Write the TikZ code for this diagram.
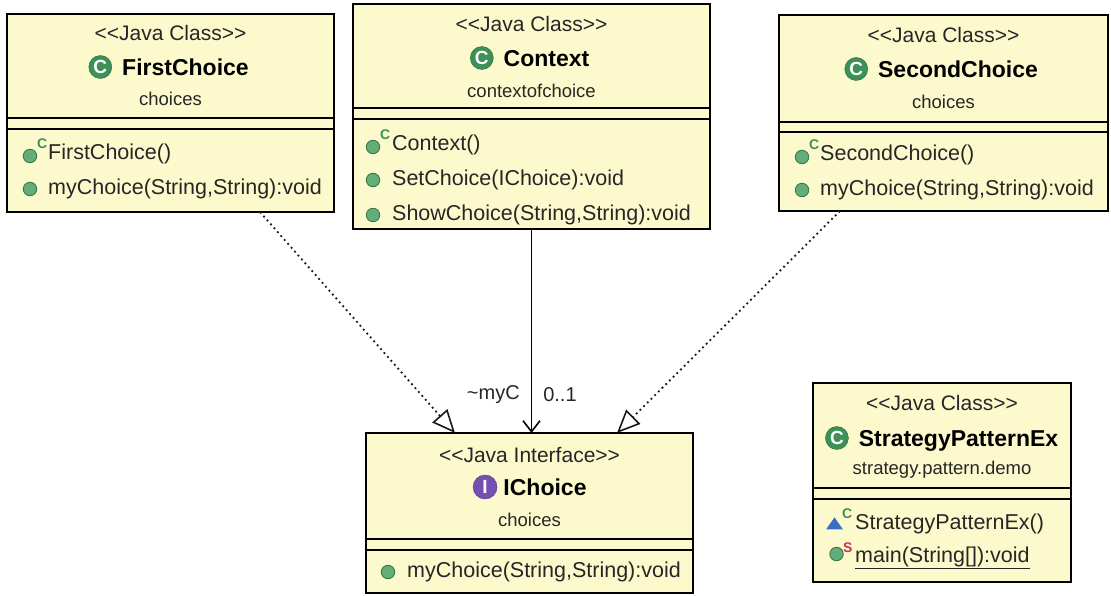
\documentclass[tikz,border=0pt]{standalone}
\usepackage{fontspec}
\setmainfont{Liberation Sans}
\usetikzlibrary{positioning, arrows.meta, shapes.geometric}

\definecolor{boxfill}{HTML}{FCFACC}
\definecolor{icongreen}{HTML}{3E9156}
\definecolor{dotgreen}{HTML}{62AD78}
\definecolor{iconpurple}{HTML}{7650B0}
\definecolor{pkgblue}{HTML}{3B6DC0}
\definecolor{staticred}{HTML}{D22F55}
\definecolor{textgray}{HTML}{262626}

\newcommand{\stereotype}[1]{\textless\kern0pt\textless #1\textgreater\kern0pt\textgreater}

\begin{document}
\begin{tikzpicture}[x=1pt, y=-1pt,
	classbox/.style={draw=black, line width=1.7pt, fill=boxfill, rectangle, inner sep=0pt, outer sep=0pt},
	sepline/.style={draw=black, line width=1.7pt},
	stereo/.style={font=\fontsize{21}{25}\selectfont, text=textgray, inner sep=0pt},
	classname/.style={font=\fontsize{23}{27}\selectfont\bfseries, text height=16.5pt, text depth=0pt, inner sep=0pt},
	pkg/.style={font=\fontsize{18.5}{22}\selectfont, text=textgray, inner sep=0pt},
	member/.style={font=\fontsize{21.5}{25}\selectfont, text=textgray, anchor=west, inner sep=0pt},
	classicon/.style={circle, fill=icongreen, draw=icongreen!70!black, minimum size=23pt, inner sep=0pt,
		text=white, font=\fontsize{19}{19}\selectfont\bfseries},
	ifaceicon/.style={classicon, fill=iconpurple, draw=iconpurple!70!black, minimum size=24pt},
	pubdot/.style={circle, fill=dotgreen, draw=icongreen!80!black, line width=0.8pt, minimum size=13.5pt, inner sep=0pt},
	pkgtri/.style={isosceles triangle, isosceles triangle apex angle=70, shape border rotate=90,
		fill=pkgblue, minimum height=12pt, minimum width=14pt, inner sep=0pt},
	ctorsup/.style={font=\fontsize{14}{14}\selectfont\bfseries, text=icongreen, inner sep=0pt},
	staticsup/.style={ctorsup, text=staticred},
	realize/.style={draw=black!90, line width=1.8pt, dash pattern=on 1.8pt off 3.4pt,
		-{Triangle[open, length=23pt, width=20pt, line width=1.6pt]}},
	assoc/.style={draw=black, line width=1.6pt, -{Straight Barb[length=11pt, width=17pt, line width=1.6pt]}},
	assoclabel/.style={font=\fontsize{20}{24}\selectfont, text=textgray, inner sep=0pt}
]
\useasboundingbox (0,0) rectangle (1111,596);

	% Class boxes
	\node[classbox, minimum width=327, minimum height=198] (first) at (170.5,113) {};
	\node[classbox, minimum width=357, minimum height=225] (context) at (531.5,116.5) {};
	\node[classbox, minimum width=329, minimum height=196] (second) at (943.5,113) {};
	\node[classbox, minimum width=327, minimum height=160] (ichoice) at (529.5,513) {};
	\node[classbox, minimum width=258, minimum height=199] (strategy) at (942,482.5) {};

	% Compartment separators
	\draw[sepline] (7,118) -- (334,118);
	\draw[sepline] (7,129) -- (334,129);
	\draw[sepline] (353,108) -- (710,108);
	\draw[sepline] (353,119) -- (710,119);
	\draw[sepline] (779,122) -- (1108,122);
	\draw[sepline] (779,132) -- (1108,132);
	\draw[sepline] (366,539) -- (693,539);
	\draw[sepline] (366,550) -- (693,550);
	\draw[sepline] (813,488) -- (1071,488);
	\draw[sepline] (813,499) -- (1071,499);

	% FirstChoice
	\node[stereo] (first_stereo) at (170.5,33) {\stereotype{Java Class}};
	\node[classname] (first_name) at (185.5,67) {FirstChoice};
	\node[classicon, left=10pt of first_name] (first_icon) {C};
	\node[pkg] (first_pkg) at (170.5,99) {choices};
	\node[pubdot] (first_ctor_dot) at (30,156) {};
	\node[ctorsup, anchor=south west] (first_ctor_sup) at (37,149) {C};
	\node[member] (first_ctor) at (48,154) {FirstChoice()};
	\node[pubdot] (first_op_dot) at (30,189) {};
	\node[member] (first_op) at (48,189) {myChoice(String,String):void};

	% Context
	\node[stereo] (context_stereo) at (531.5,24) {\stereotype{Java Class}};
	\node[classname] (context_name) at (546.5,58) {Context};
	\node[classicon, left=10pt of context_name] (context_icon) {C};
	\node[pkg] (context_pkg) at (531.5,91) {contextofchoice};
	\node[pubdot] (context_ctor_dot) at (373,147) {};
	\node[ctorsup, anchor=south west] (context_ctor_sup) at (380,140) {C};
	\node[member] (context_ctor) at (392,145) {Context()};
	\node[pubdot] (context_set_dot) at (373,180) {};
	\node[member] (context_set) at (392,180) {SetChoice(IChoice):void};
	\node[pubdot] (context_show_dot) at (373,215) {};
	\node[member] (context_show) at (392,215) {ShowChoice(String,String):void};

	% SecondChoice
	\node[stereo] (second_stereo) at (943.5,35) {\stereotype{Java Class}};
	\node[classname] (second_name) at (958,69) {SecondChoice};
	\node[classicon, left=10pt of second_name] (second_icon) {C};
	\node[pkg] (second_pkg) at (943.5,102) {choices};
	\node[pubdot] (second_ctor_dot) at (802,157) {};
	\node[ctorsup, anchor=south west] (second_ctor_sup) at (809,150) {C};
	\node[member] (second_ctor) at (820,155) {SecondChoice()};
	\node[pubdot] (second_op_dot) at (802,190) {};
	\node[member] (second_op) at (820,190) {myChoice(String,String):void};

	% IChoice
	\node[stereo] (ichoice_stereo) at (529.5,455) {\stereotype{Java Interface}};
	\node[classname] (ichoice_name) at (545,487) {IChoice};
	\node[ifaceicon, left=6pt of ichoice_name] (ichoice_icon) {I};
	\node[pkg] (ichoice_pkg) at (529.5,520) {choices};
	\node[pubdot] (ichoice_op_dot) at (388,572) {};
	\node[member] (ichoice_op) at (407,572) {myChoice(String,String):void};

	% StrategyPatternEx
	\node[stereo] (strategy_stereo) at (942,403) {\stereotype{Java Class}};
	\node[classname] (strategy_name) at (958.5,438) {StrategyPatternEx};
	\node[classicon, left=10pt of strategy_name] (strategy_icon) {C};
	\node[pkg] (strategy_pkg) at (942,470) {strategy.pattern.demo};
	\node[pkgtri] (strategy_ctor_tri) at (834.5,525) {};
	\node[ctorsup, anchor=south west] (strategy_ctor_sup) at (842,519) {C};
	\node[member] (strategy_ctor) at (855,524) {StrategyPatternEx()};
	\node[pubdot] (strategy_main_dot) at (836.5,554) {};
	\node[staticsup, anchor=south west] (strategy_main_sup) at (843,553) {S};
	\node[member] (strategy_main) at (855,558) {\underline{main(String[]):void}};

	% Connectors
	\coordinate (first_out) at (260,212);
	\coordinate (second_out) at (840,211);
	\coordinate (ichoice_in_left) at (455,433);
	\coordinate (ichoice_in_right) at (617,433);

	\draw[realize] (first_out) -- (ichoice_in_left);
	\draw[realize] (second_out) -- (ichoice_in_right);
	\draw[assoc] (context.south) -- node[pos=0.81, assoclabel, left=11pt] (assoc_role) {\textasciitilde myC}
		node[pos=0.81, assoclabel, right=11pt] (assoc_mult) {0..1} (context.south |- ichoice.north);

\end{tikzpicture}
\end{document}
